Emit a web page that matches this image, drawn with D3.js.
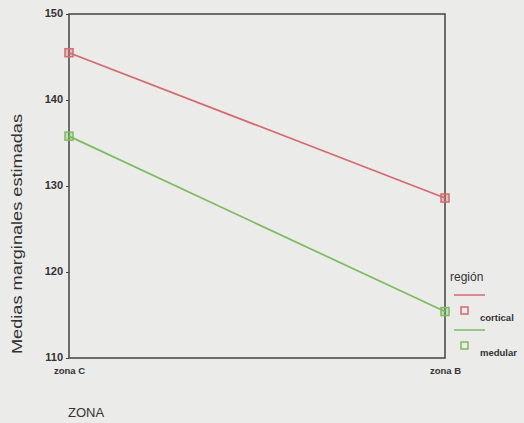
<!DOCTYPE html>
<html>
<head>
<meta charset="utf-8">
<script src="https://cdn.jsdelivr.net/npm/d3@7"></script>
<style>
  html, body { margin: 0; padding: 0; background: #ebebea; }
  svg { display: block; font-family: "Liberation Sans", Arial, sans-serif; }
</style>
</head>
<body>
<svg id="chart" width="524" height="423"></svg>
<script>
// Estimated marginal means by zone and region
const zonas = ["zona C", "zona B"];
const regiones = ["cortical", "medular"];
const cortical = [145.5, 128.6];
const medular = [135.8, 115.4];
const yTicks = [110, 120, 130, 140, 150];
const colores = ["#d46a6d", "#7dbb5f"];

const series = [
  { name: regiones[0], values: cortical, color: colores[0] },
  { name: regiones[1], values: medular, color: colores[1] }
];

const svg = d3.select("#chart");
const plotLeft = 69, plotRight = 445, plotTop = 14, plotBottom = 358;

const x = d3.scalePoint().domain(zonas).range([plotLeft, plotRight]);
const y = d3.scaleLinear().domain([110, 150]).range([plotBottom, plotTop]);

// Frame
svg.append("rect")
  .attr("x", plotLeft).attr("y", plotTop)
  .attr("width", plotRight - plotLeft).attr("height", plotBottom - plotTop)
  .attr("fill", "none").attr("stroke", "#444").attr("stroke-width", 1.5);

// Y axis
const yAxis = svg.append("g")
  .attr("transform", `translate(${plotLeft},0)`)
  .call(d3.axisLeft(y).tickValues(yTicks).tickSize(3).tickPadding(3).tickFormat(d3.format("d")));
yAxis.select(".domain").remove();
yAxis.selectAll("line").attr("stroke", "#444");
yAxis.selectAll("text")
  .attr("font-size", 11).attr("font-weight", "bold").attr("fill", "#333")
  .attr("dy", "0.2em");

// X axis
const xAxis = svg.append("g")
  .attr("transform", `translate(0,${plotBottom})`)
  .call(d3.axisBottom(x).tickSize(0).tickPadding(9));
xAxis.select(".domain").remove();
xAxis.selectAll("text")
  .attr("font-size", 9.5).attr("font-weight", "bold").attr("fill", "#333");

// Axis titles
svg.append("text")
  .attr("x", 68).attr("y", 417)
  .attr("font-size", 13).attr("fill", "#333")
  .text("ZONA");
svg.append("text")
  .attr("transform", "translate(22,234) rotate(-90)")
  .attr("text-anchor", "middle")
  .attr("font-size", 15).attr("fill", "#333")
  .attr("textLength", 240).attr("lengthAdjust", "spacingAndGlyphs")
  .text("Medias marginales estimadas");

// Lines and markers
const line = d3.line().x((d, i) => x(zonas[i])).y(d => y(d));
series.forEach(s => {
  svg.append("path")
    .datum(s.values)
    .attr("d", line)
    .attr("fill", "none")
    .attr("stroke", s.color)
    .attr("stroke-width", 1.7);
  svg.selectAll(null)
    .data(s.values)
    .enter().append("rect")
    .attr("x", (d, i) => x(zonas[i]) - 4)
    .attr("y", d => y(d) - 4)
    .attr("width", 8).attr("height", 8)
    .attr("fill", s.color).attr("fill-opacity", 0.35)
    .attr("stroke", s.color).attr("stroke-width", 1.5);
});

// Legend
const legend = svg.append("g");
legend.append("text")
  .attr("x", 450).attr("y", 281)
  .attr("font-size", 12).attr("fill", "#333")
  .text("región");
series.forEach((s, i) => {
  const oy = 295 + i * 35;
  legend.append("line")
    .attr("x1", 454).attr("x2", 485)
    .attr("y1", oy).attr("y2", oy)
    .attr("stroke", s.color).attr("stroke-width", 1.5);
  legend.append("rect")
    .attr("x", 461).attr("y", oy + 12)
    .attr("width", 7).attr("height", 7)
    .attr("fill", "none")
    .attr("stroke", s.color).attr("stroke-width", 1.5);
  legend.append("text")
    .attr("x", 480).attr("y", oy + 26)
    .attr("font-size", 9.5).attr("font-weight", "bold").attr("fill", "#333")
    .text(s.name);
});
</script>
</body>
</html>
